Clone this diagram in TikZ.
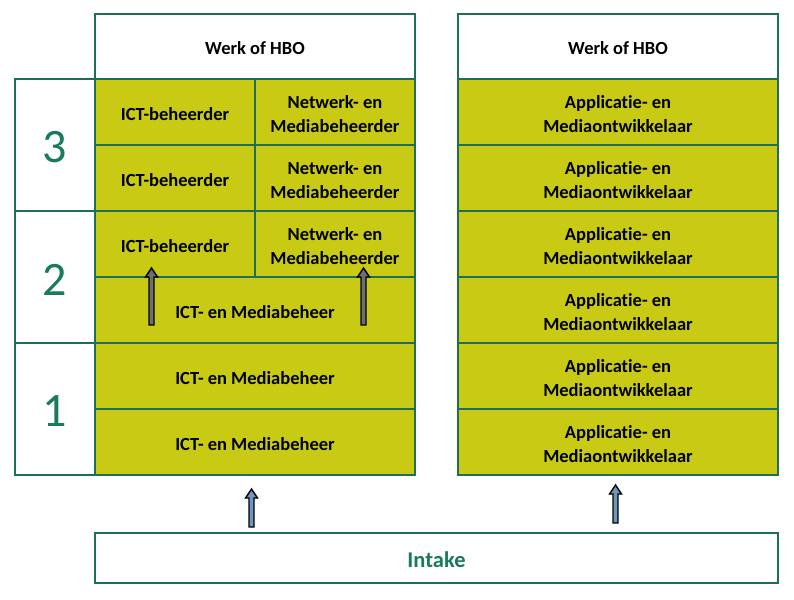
\documentclass[tikz,border=0pt]{standalone}
\usepackage{fontspec}
\setmainfont[Ligatures={NoCommon}]{Carlito}
\definecolor{bordgreen}{RGB}{30,110,90}
\definecolor{olivefill}{RGB}{200,202,20}
\definecolor{numgreen}{RGB}{26,122,94}
\definecolor{arrgray}{RGB}{110,110,110}
\definecolor{arrblue}{RGB}{110,150,190}
\tikzset{
  cell/.style={draw=bordgreen, line width=2pt, fill=olivefill, inner sep=0pt},
  hdr/.style={cell, fill=white},
  celltext/.style={inner sep=0pt, align=center, font=\fontsize{18.5}{24}\selectfont\bfseries},
  numcell/.style={draw=bordgreen, line width=2pt, fill=white, inner sep=0pt},
  numtext/.style={inner sep=0pt, text=numgreen, font=\fontsize{48}{50}\selectfont},
  intakebox/.style={draw=bordgreen, line width=2pt, fill=white, inner sep=0pt},
  intaketext/.style={inner sep=0pt, text=numgreen, font=\fontsize{22.5}{24}\selectfont\bfseries},
  blockarrow/.style={draw=black, line width=1.4pt, line join=miter}
}
\newcommand{\mycell}[7]{% style, name, x, y, w, h, text
  \node[#1, minimum width=#5pt, minimum height=#6pt] (#2) at (#3,#4) {};
  \node[celltext] (#2t) at ([yshift=-2pt]#2.center) {#7};}
\begin{document}
\begin{tikzpicture}[x=1pt,y=-1pt]
\useasboundingbox (0,0) rectangle (794,599);
% headers
\mycell{hdr}{h1}{255}{46.5}{320}{65}{Werk of HBO}
\mycell{hdr}{h2}{618}{46.5}{320}{65}{Werk of HBO}
% number cells
\foreach \n/\y in {3/145,2/277,1/409}{
  \node[numcell, minimum width=80pt, minimum height=132pt] (n\n) at (55,\y) {};
  \node[numtext] (n\n t) at ([yshift=-2.5pt]n\n.center) {\n};
}
% left block
\foreach \r/\y in {1/112,2/178,3/244}{
  \mycell{cell}{a\r}{175}{\y}{160}{66}{ICT-beheerder}
  \mycell{cell}{b\r}{335}{\y}{160}{66}{Netwerk- en\\Mediabeheerder}
}
\foreach \r/\y in {1/310,2/376,3/442}{
  \mycell{cell}{c\r}{255}{\y}{320}{66}{ICT- en Mediabeheer}
}
% right block
\foreach \i/\y in {1/112,2/178,3/244,4/310,5/376,6/442}{
  \mycell{cell}{r\i}{618}{\y}{320}{66}{Applicatie- en\\Mediaontwikkelaar}
}
% intake
\node[intakebox, minimum width=683pt, minimum height=50pt] (intake) at (436.5,558) {};
\node[intaketext] (intaket) at ([yshift=-1.5pt]intake.center) {Intake};
% block arrows (gray, inside left block)
\foreach \x in {151.5,363.5}{
  \filldraw[blockarrow, fill=arrgray] (\x-2.5,325) -- (\x+2.5,325) -- (\x+2.5,277) -- (\x+6,277) -- (\x,268) -- (\x-6,277) -- (\x-2.5,277) -- cycle;
}
% block arrows (blue, from intake)
\filldraw[blockarrow, fill=arrblue] (249,527) -- (254,527) -- (254,498) -- (257.5,498) -- (251.5,489) -- (245.5,498) -- (249,498) -- cycle;
\filldraw[blockarrow, fill=arrblue] (613,523) -- (618,523) -- (618,494) -- (621.5,494) -- (615.5,485) -- (609.5,494) -- (613,494) -- cycle;
\end{tikzpicture}
\end{document}
